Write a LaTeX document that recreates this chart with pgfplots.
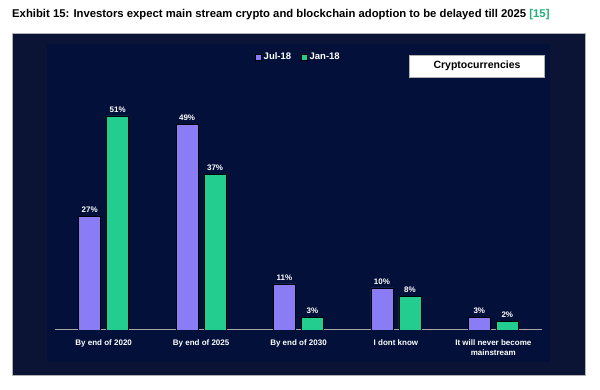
\documentclass[border=0pt]{standalone}
\usepackage{pgfplots}
\pgfplotsset{compat=1.18}
\usepackage{fontspec}
\setmainfont{Liberation Sans}
\definecolor{panel}{HTML}{0B1434}
\definecolor{inner}{HTML}{03113A}
\definecolor{jul}{HTML}{8A7CF4}
\definecolor{jan}{HTML}{22CD8F}
\definecolor{ref}{HTML}{22B07A}
\begin{document}
\begin{tikzpicture}[x=1pt,y=1pt]
\path[use as bounding box] (0,0) rectangle (600,390);
\fill[white] (0,0) rectangle (600,390);
\node[anchor=base west,inner sep=0pt,font=\bfseries\fontsize{11.3}{13}\selectfont] at (12,372) {Exhibit 15: Investors expect main stream crypto and blockchain adoption to be delayed till 2025 \textcolor{ref}{[15]}};
\fill[panel,draw=gray!60,line width=1pt] (12,14) rectangle (585,356);
\fill[inner] (47,28) rectangle (550,346);
\begin{axis}[
  at={(55pt,60pt)}, anchor=south west,
  scale only axis, width=487pt, height=252pt,
  ymin=0, ymax=60, xmin=-0.5, xmax=4.5,
  axis y line=none, axis x line*=bottom,
  x axis line style={gray!70, line width=1pt, -},
  xtick={0,1,2,3,4}, xtick style={draw=none},
  xticklabels={By end of 2020,By end of 2025,By end of 2030,I dont know,{It will never become\\mainstream}},
  xticklabel style={text=white, font=\bfseries\fontsize{8}{9.5}\selectfont, align=center, yshift=-2pt},
  ybar, bar width=22pt,
  /pgf/number format/assume math mode=true,
  nodes near coords={\pgfmathprintnumber{\pgfplotspointmeta}\%},
  nodes near coords style={text=white, font=\bfseries\fontsize{8}{9}\selectfont},
  legend style={at={(axis description cs:0.5,1.083)}, anchor=center, draw=none, fill=none, text=white, font=\bfseries\fontsize{9.5}{11}\selectfont, legend columns=2, /tikz/every even column/.append style={column sep=8pt}},
  legend image code/.code={\fill[#1] (0pt,-3pt) rectangle (6pt,3pt);},
]
\addplot[fill=jul, draw=black, line width=0.5pt, bar shift=-14pt] coordinates {(0,27) (1,49) (2,11) (3,10) (4,3)};
\addplot[fill=jan, draw=black, line width=0.5pt, bar shift=14pt] coordinates {(0,51) (1,37) (2,3) (3,8) (4,2)};
\legend{Jul-18,Jan-18}
\end{axis}
\node[fill=white, draw=gray!60, minimum width=135pt, minimum height=22pt, inner sep=0pt, font=\bfseries\fontsize{10.5}{12}\selectfont] at (477,324) {Cryptocurrencies};
\end{tikzpicture}
\end{document}
